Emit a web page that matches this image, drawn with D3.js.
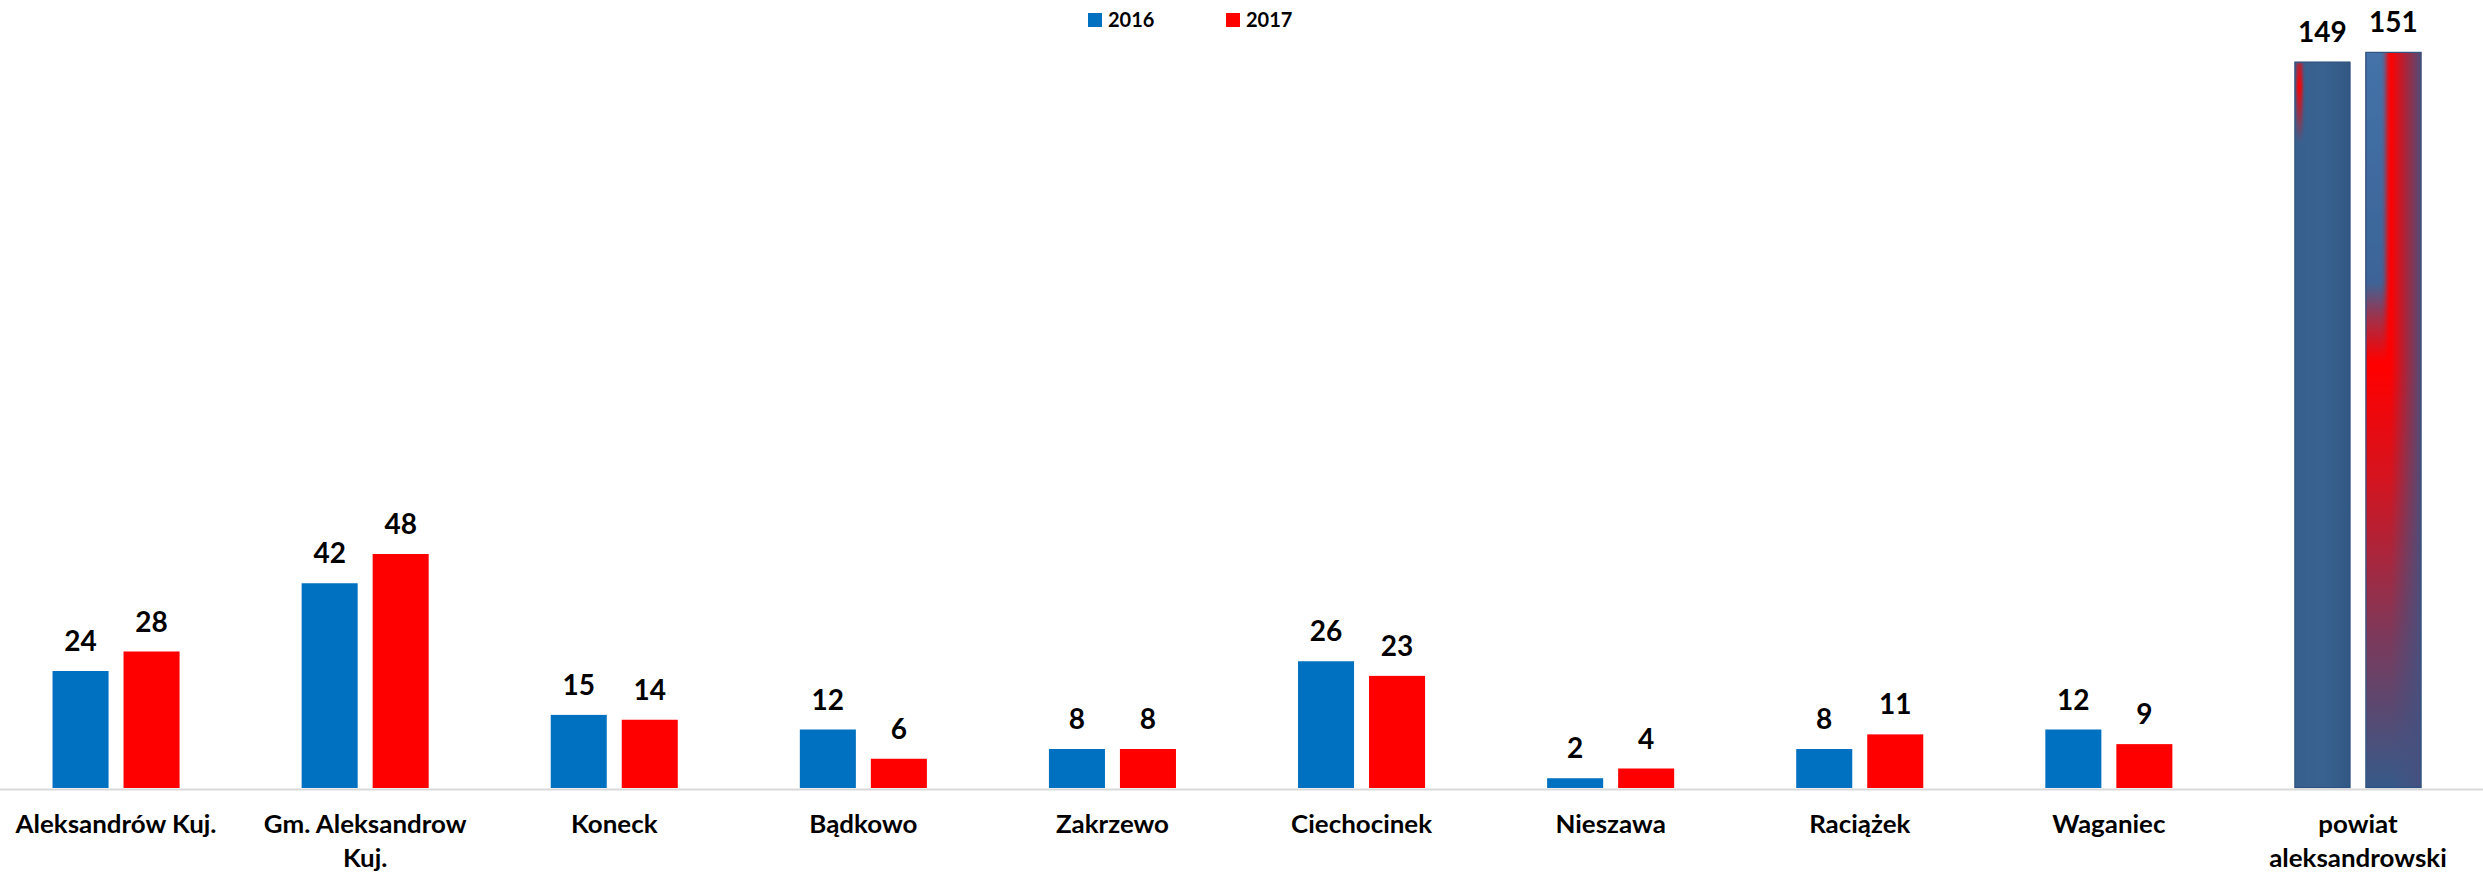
<!DOCTYPE html>
<html>
<head>
<meta charset="utf-8">
<script src="https://cdn.jsdelivr.net/npm/d3@7"></script>
<style>
  html, body { margin: 0; padding: 0; background: #ffffff; }
  svg { display: block; }
  text { font-family: Lato, "Open Sans", "Noto Sans", sans-serif; font-weight: bold; fill: #000; }
</style>
</head>
<body>
<svg id="chart" width="2483" height="879"></svg>
<script>
const categories = ["Aleksandrów Kuj.", "Gm. Aleksandrow Kuj.", "Koneck", "Bądkowo", "Zakrzewo", "Ciechocinek", "Nieszawa", "Raciążek", "Waganiec", "powiat aleksandrowski"];
const seriesNames = ["2016", "2017"];
const values2016 = [24, 42, 15, 12, 8, 26, 2, 8, 12, 149];
const values2017 = [28, 48, 14, 6, 8, 23, 4, 11, 9, 151];
const seriesColors = ["#0070C0", "#FF0000"];

const W = 2483, H = 879;
const baseY = 788;
const svg = d3.select("#chart");

const x0 = d3.scaleBand().domain(categories).range([-8.5, 2482.5]).paddingInner(0.49).paddingOuter(0.245);
const x1 = d3.scaleBand().domain(seriesNames).range([0, x0.bandwidth()]).paddingInner(0.211);
const y = d3.scaleLinear().domain([0, 160]).range([baseY, baseY - 160 * 4.875]);

const rows = categories.map((c, i) => ({ cat: c, vals: [values2016[i], values2017[i]], last: i === categories.length - 1 }));

// defs for the special last-group fills
const defs = svg.append("defs");
function lin(id, x1_, y1_, x2_, y2_, stops) {
  const g = defs.append("linearGradient").attr("id", id)
    .attr("x1", x1_).attr("y1", y1_).attr("x2", x2_).attr("y2", y2_);
  stops.forEach(s => g.append("stop").attr("offset", s[0]).attr("stop-color", s[1]).attr("stop-opacity", s[2] === undefined ? 1 : s[2]));
}
lin("g16", "0", "0", "1", "0", [[0, "#37608E"], [0.5, "#3A6291"], [1, "#325984"]]);
lin("streak", "0", "0", "0", "1", [[0, "#FF0000", 0.6], [0.3, "#FF0000", 1], [1, "#FF0000", 0]]);
lin("v17", "0", "0", "0", "1", [[0, "#FF0000"], [0.43, "#FF0000"], [0.58, "#D4141F"], [0.8, "#7A3A5C"], [1, "#365A89"]]);
lin("h17", "0", "0", "1", "0", [[0, "#46507F", 0], [0.45, "#46507F", 0], [1, "#46507F", 0.95]]);
lin("patch", "0", "0", "0", "1", [[0, "#4473A9"], [0.75, "#3C6498"], [0.86, "#3C6498", 0.5], [1, "#3C6498", 0]]);
defs.append("filter").attr("id", "blur2").attr("x", "-50%").attr("y", "-20%").attr("width", "200%").attr("height", "140%")
  .append("feGaussianBlur").attr("stdDeviation", 2.5);
defs.append("filter").attr("id", "blur1").attr("x", "-50%").attr("y", "-20%").attr("width", "200%").attr("height", "140%")
  .append("feGaussianBlur").attr("stdDeviation", 1.5);

// axis
const labelScaleX = 1.08;
const axis = svg.append("g").attr("transform", `translate(0,${baseY + 1})`)
  .call(d3.axisBottom(x0).tickSize(0).tickPadding(0));
axis.select(".domain").attr("stroke", "#D9D9D9").attr("stroke-width", 2);
axis.selectAll(".tick text").each(function(d) {
  const t = d3.select(this);
  t.text(null).attr("y", 0).attr("dy", null)
    .attr("transform", `scale(${labelScaleX},1)`)
    .style("font-size", "24px").style("font-family", "Lato, 'Open Sans', sans-serif").style("font-weight", "bold").attr("fill", "#000");
  const words = d.split(" ");
  const lines = [];
  let cur = [];
  const probe = t.append("tspan");
  words.forEach(w => {
    const test = cur.concat([w]).join(" ");
    probe.text(test);
    if (probe.node().getComputedTextLength() * labelScaleX > 235 && cur.length) { lines.push(cur.join(" ")); cur = [w]; }
    else cur.push(w);
  });
  lines.push(cur.join(" "));
  probe.remove();
  lines.forEach((ln, k) => t.append("tspan").attr("x", 0).attr("y", 44 + k * 34).text(ln));
});

// bars
const groups = svg.append("g").selectAll("g").data(rows).join("g")
  .attr("transform", d => `translate(${x0(d.cat)},0)`);

groups.each(function(d) {
  const g = d3.select(this);
  d.vals.forEach((v, s) => {
    const bx = x1(seriesNames[s]), bw = x1.bandwidth(), by = y(v), bh = y(0) - y(v);
    if (!d.last) {
      g.append("rect").attr("x", bx).attr("y", by).attr("width", bw).attr("height", bh).attr("fill", seriesColors[s]);
    } else {
      const clipId = "clip" + s;
      defs.append("clipPath").attr("id", clipId).append("rect").attr("x", bx).attr("y", by).attr("width", bw).attr("height", bh);
      const cg = g.append("g").attr("clip-path", `url(#${clipId})`);
      if (s === 0) {
        cg.append("rect").attr("x", bx).attr("y", by).attr("width", bw).attr("height", bh).attr("fill", "url(#g16)");
        cg.append("rect").attr("x", bx + 2).attr("y", by + 1).attr("width", 6).attr("height", bh * 0.11)
          .attr("fill", "url(#streak)").attr("filter", "url(#blur1)");
      } else {
        cg.append("rect").attr("x", bx).attr("y", by).attr("width", bw).attr("height", bh).attr("fill", "url(#v17)");
        cg.append("rect").attr("x", bx - 6).attr("y", by - 6).attr("width", bw * 0.37 + 6).attr("height", bh * 0.42 + 6)
          .attr("fill", "url(#patch)").attr("filter", "url(#blur2)");
        cg.append("rect").attr("x", bx).attr("y", by).attr("width", bw).attr("height", bh).attr("fill", "url(#h17)");
      }
      g.append("rect").attr("x", bx + 0.5).attr("y", by + 0.5).attr("width", bw - 1).attr("height", bh - 1)
        .attr("fill", "none").attr("stroke", "#2F5380").attr("stroke-width", 1.2);
    }
    g.append("text").attr("x", bx + bw / 2).attr("y", by - 20).attr("text-anchor", "middle")
      .style("font-size", "28px").text(v);
  });
});

// legend
const legend = svg.append("g");
const legX = [1088, 1226];
seriesNames.forEach((n, i) => {
  legend.append("rect").attr("x", legX[i]).attr("y", 13).attr("width", 14).attr("height", 14).attr("fill", seriesColors[i]);
  legend.append("text").attr("x", legX[i] + 20).attr("y", 27).style("font-size", "20px").text(n);
});
</script>
</body>
</html>
